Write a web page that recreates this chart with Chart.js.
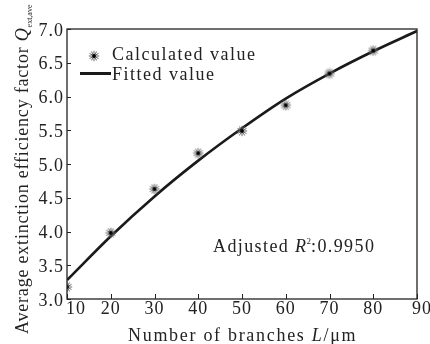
<!DOCTYPE html>
<html>
<head>
<meta charset="utf-8">
<script src="https://cdn.jsdelivr.net/npm/chart.js@4.4.1/dist/chart.umd.min.js"></script>
<style>
html,body{margin:0;padding:0;background:#fff;}
#wrap{width:430px;height:344px;position:relative;}
</style>
</head>
<body>
<div id="wrap"><canvas id="c" width="430" height="344"></canvas></div>
<script>
// ---- data ----
const branchesCalc = [10, 20, 30, 40, 50, 60, 70, 80];
const calculatedValues = [3.18, 3.98, 4.63, 5.16, 5.49, 5.87, 6.34, 6.68];
const branchesFit = [10, 20, 30, 40, 50, 60, 70, 80, 90];
const fittedValues = [3.28, 3.93, 4.52, 5.05, 5.53, 5.97, 6.34, 6.67, 6.97];
const xTickValues = [10, 20, 30, 40, 50, 60, 70, 80, 90];
const yTickValues = [3.0, 3.5, 4.0, 4.5, 5.0, 5.5, 6.0, 6.5, 7.0];
const seriesLabels = ['Calculated value', 'Fitted value'];
const annotationText = {pre: 'Adjusted ', sym: 'R', sup: '2', post: ':0.9950'};

const INK = '#222';
const SERIF = "'Liberation Serif','Times New Roman',serif";

// star marker image
function makeStar() {
  const c = document.createElement('canvas');
  c.width = 14; c.height = 14;
  const g = c.getContext('2d');
  g.translate(7, 7);
  g.strokeStyle = '#666';
  g.lineWidth = 1;
  for (let i = 0; i < 6; i++) {
    const a = i * Math.PI / 6;
    g.beginPath();
    g.moveTo(-5.2 * Math.cos(a), -5.2 * Math.sin(a));
    g.lineTo(5.2 * Math.cos(a), 5.2 * Math.sin(a));
    g.stroke();
  }
  g.fillStyle = '#000';
  g.beginPath(); g.arc(0, 0, 1.9, 0, Math.PI * 2); g.fill();
  return c;
}
const starImg = makeStar();

const decor = {
  id: 'decor',
  beforeDraw(chart) { chart.ctx.letterSpacing = '1px'; },
  afterDatasetsDraw(chart) {
    const ctx = chart.ctx, a = chart.chartArea;
    const xs = chart.scales.x, ys = chart.scales.y;
    ctx.save();
    ctx.letterSpacing = '1px';
    // frame
    ctx.strokeStyle = INK; ctx.lineWidth = 1.3;
    ctx.strokeRect(a.left, a.top, a.right - a.left, a.bottom - a.top);
    // inward ticks
    ctx.lineWidth = 1;
    xTickValues.forEach(v => {
      const px = Math.round(xs.getPixelForValue(v)) + 0.5;
      ctx.beginPath(); ctx.moveTo(px, a.bottom); ctx.lineTo(px, a.bottom - 5); ctx.stroke();
    });
    yTickValues.forEach(v => {
      const py = Math.round(ys.getPixelForValue(v)) + 0.5;
      ctx.beginPath(); ctx.moveTo(a.left, py); ctx.lineTo(a.left + 4, py); ctx.stroke();
    });
    // x tick labels
    ctx.fillStyle = INK;
    ctx.font = '18px ' + SERIF;
    ctx.textAlign = 'center'; ctx.textBaseline = 'alphabetic';
    xTickValues.forEach((v, i) => {
      let px = xs.getPixelForValue(v);
      if (i === 0) px += 9;
      if (i === xTickValues.length - 1) px += 5;
      ctx.fillText(String(v), px, a.bottom + 15);
    });
    ctx.textAlign = 'left';
    // x title
    ctx.letterSpacing = '1.7px';
    let x = 128; const yb = 341;
    ctx.font = '18px ' + SERIF;
    let t = 'Number of branches ';
    ctx.fillText(t, x, yb); x += ctx.measureText(t).width;
    ctx.font = 'italic 18px ' + SERIF;
    ctx.fillText('L', x, yb); x += ctx.measureText('L').width;
    ctx.font = '18px ' + SERIF;
    ctx.fillText('/\u03bcm', x, yb);
    // y title (rotated)
    ctx.save();
    ctx.translate(28, 334);
    ctx.rotate(-Math.PI / 2);
    ctx.letterSpacing = '0.8px';
    let yx = 0;
    ctx.font = '18px ' + SERIF;
    t = 'Average extinction efficiency factor ';
    ctx.fillText(t, yx, 0); yx += ctx.measureText(t).width;
    ctx.font = 'italic 18px ' + SERIF;
    ctx.fillText('Q', yx, 0); yx += ctx.measureText('Q').width;
    ctx.letterSpacing = '0px';
    ctx.font = '8px ' + SERIF;
    ctx.fillText('ext,ave', yx, 4);
    ctx.restore();
    // legend
    const ds0 = chart.data.datasets[0], ds1 = chart.data.datasets[1];
    ctx.drawImage(starImg, 94 - 7, 56 - 7);
    ctx.strokeStyle = ds1.borderColor; ctx.lineWidth = 3;
    ctx.beginPath(); ctx.moveTo(80, 73.5); ctx.lineTo(111, 73.5); ctx.stroke();
    ctx.font = '18px ' + SERIF;
    ctx.letterSpacing = '1.5px';
    ctx.fillText(ds0.label, 112, 60);
    ctx.fillText(ds1.label, 112, 80);
    // annotation
    ctx.letterSpacing = '1.4px';
    x = 213; const ab = 252;
    ctx.fillText(annotationText.pre, x, ab); x += ctx.measureText(annotationText.pre).width;
    ctx.font = 'italic 18px ' + SERIF;
    ctx.fillText(annotationText.sym, x, ab); x += ctx.measureText(annotationText.sym).width - 1;
    ctx.font = '9px ' + SERIF;
    ctx.letterSpacing = '0px';
    ctx.fillText(annotationText.sup, x, ab - 8); x += ctx.measureText(annotationText.sup).width;
    ctx.font = '18px ' + SERIF;
    ctx.letterSpacing = '1.4px';
    ctx.fillText(annotationText.post, x, ab);
    ctx.restore();
  }
};

new Chart(document.getElementById('c'), {
  type: 'scatter',
  data: {
    datasets: [
      {
        label: seriesLabels[0],
        data: branchesCalc.map((v, i) => ({x: v, y: calculatedValues[i]})),
        pointStyle: starImg,
        showLine: false,
        order: 0
      },
      {
        label: seriesLabels[1],
        type: 'line',
        data: branchesFit.map((v, i) => ({x: v, y: fittedValues[i]})),
        borderColor: '#1a1a1a',
        borderWidth: 2.6,
        pointRadius: 0,
        cubicInterpolationMode: 'monotone',
        fill: false,
        order: 1
      }
    ]
  },
  options: {
    responsive: false,
    animation: false,
    devicePixelRatio: 1,
    layout: {padding: {top: 29, right: 13, left: 0, bottom: 0}},
    plugins: {legend: {display: false}, tooltip: {enabled: false}},
    scales: {
      x: {
        type: 'linear', min: 10, max: 90,
        ticks: {display: false, stepSize: 10},
        grid: {display: false, drawTicks: false},
        border: {display: false},
        afterFit(s) { s.height = 45; }
      },
      y: {
        type: 'linear', min: 3, max: 7,
        afterBuildTicks(s) { s.ticks = yTickValues.map(v => ({value: v})); },
        ticks: {
          color: INK,
          font: {family: SERIF, size: 18},
          padding: 3,
          labelOffset: 2,
          callback: v => Number(v).toFixed(1)
        },
        grid: {drawOnChartArea: false, drawTicks: false},
        border: {display: false},
        afterFit(s) { s.width = 67; }
      }
    }
  },
  plugins: [decor]
});
</script>
</body>
</html>
